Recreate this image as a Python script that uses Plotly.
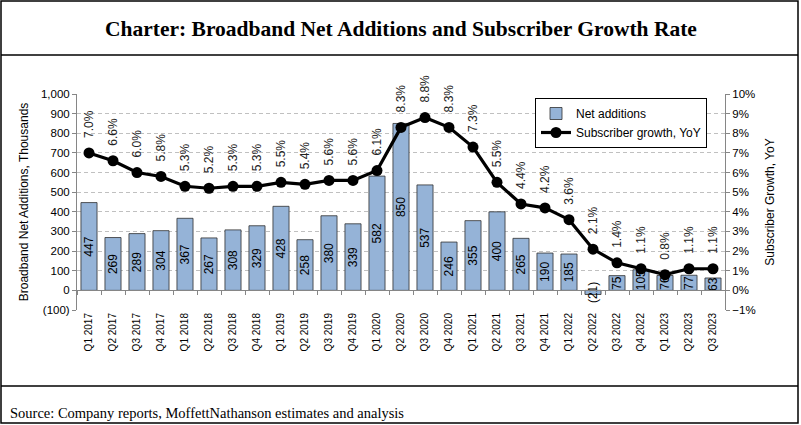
import plotly.graph_objects as go

quarters = ["Q1 2017", "Q2 2017", "Q3 2017", "Q4 2017", "Q1 2018", "Q2 2018", "Q3 2018", "Q4 2018",
            "Q1 2019", "Q2 2019", "Q3 2019", "Q4 2019", "Q1 2020", "Q2 2020", "Q3 2020", "Q4 2020",
            "Q1 2021", "Q2 2021", "Q3 2021", "Q4 2021", "Q1 2022", "Q2 2022", "Q3 2022", "Q4 2022",
            "Q1 2023", "Q2 2023", "Q3 2023"]
net_adds = [447, 269, 289, 304, 367, 267, 308, 329, 428, 258, 380, 339, 582, 850, 537, 246,
            355, 400, 265, 190, 185, -21, 75, 105, 76, 77, 63]
growth_pct = [7.0, 6.6, 6.0, 5.8, 5.3, 5.2, 5.3, 5.3, 5.5, 5.4, 5.6, 5.6, 6.1, 8.3, 8.8, 8.3,
              7.3, 5.5, 4.4, 4.2, 3.6, 2.1, 1.4, 1.1, 0.8, 1.1, 1.1]
left_ticks = [-100, 0, 100, 200, 300, 400, 500, 600, 700, 800, 900, 1000]
left_ticktext = ["(100)", "0", "100", "200", "300", "400", "500", "600", "700", "800", "900", "1,000"]

title_text = "Charter: Broadband Net Additions and Subscriber Growth Rate"
source_text = "Source: Company reports, MoffettNathanson estimates and analysis"

growth = [g / 100 for g in growth_pct]
bar_text = [f"({abs(v)})" if v < 0 else f"{v}" for v in net_adds]

W, H = 801, 425
L, R, T, B = 77, 725, 94, 310


def px_x(px):
    return (px - L) / (R - L)


def px_y(py):
    return (B - py) / (B - T)


GRID = "#C0C0C0"
AXIS = "#868686"
FONT = "Liberation Sans, Arial, sans-serif"
SERIF = "Liberation Serif, Georgia, serif"

n = len(quarters)
cat_range = [-0.5, n - 0.5]

fig = go.Figure()
fig.add_trace(go.Bar(
    x=quarters, y=net_adds, name="Net additions",
    marker=dict(color="#95B3D7", line=dict(color="#303030", width=0.8)),
    text=bar_text, textposition="inside", insidetextanchor="middle", textangle=-90,
    constraintext="none", textfont=dict(size=12, color="#000000", family=FONT),
    xaxis="x", yaxis="y", width=0.67,
))
fig.add_trace(go.Scatter(
    x=quarters, y=growth, name="Subscriber growth, YoY", mode="lines+markers",
    line=dict(color="#000000", width=3.2), marker=dict(color="#000000", size=11),
    xaxis="x2", yaxis="y2",
))

annotations = [
    dict(x=q, y=g, xref="x2", yref="y2", text=f"{p:.1f}%", textangle=-90, showarrow=False,
         xanchor="center", yanchor="bottom", yshift=13,
         font=dict(size=12, color="#222222", family=FONT))
    for q, g, p in zip(quarters, growth, growth_pct)
]
annotations.append(dict(
    x=px_x(8), y=px_y(413), xref="paper", yref="paper", text=source_text, showarrow=False,
    xanchor="left", yanchor="middle", font=dict(size=14.5, color="#000000", family=SERIF)))
annotations.append(dict(
    x=px_x(400.5), y=px_y(29), xref="paper", yref="paper", text=f"<b>{title_text}</b>",
    showarrow=False, xanchor="center", yanchor="middle",
    font=dict(size=21.5, color="#000000", family=SERIF)))

shapes = [
    dict(type="rect", xref="paper", yref="paper", x0=px_x(1), x1=px_x(798), y0=px_y(1), y1=px_y(423),
         line=dict(color="#000000", width=1.5), layer="above"),
    dict(type="line", xref="paper", yref="paper", x0=px_x(1), x1=px_x(798), y0=px_y(55), y1=px_y(55),
         line=dict(color="#000000", width=1.5)),
    dict(type="line", xref="paper", yref="paper", x0=px_x(1), x1=px_x(798), y0=px_y(386), y1=px_y(386),
         line=dict(color="#000000", width=1.5)),
]

zero_pos = (0 - left_ticks[0]) / (left_ticks[-1] - left_ticks[0])

fig.update_layout(
    width=W, height=H,
    margin=dict(l=L, r=W - R, t=T, b=H - B, autoexpand=False),
    paper_bgcolor="#FFFFFF", plot_bgcolor="#FFFFFF",
    font=dict(family=FONT, size=11, color="#000000"),
    showlegend=True,
    legend=dict(x=px_x(535), y=px_y(98), xanchor="left", yanchor="top",
                bgcolor="#FFFFFF", bordercolor="#000000", borderwidth=1,
                font=dict(size=12, family=FONT, color="#000000"),
                itemwidth=30, tracegroupgap=0),
    bargap=0.33,
    xaxis=dict(type="category", anchor="y", range=cat_range, showline=False, ticks="", tickangle=-90,
               showgrid=False, tickfont=dict(size=10, family=FONT, color="#000000")),
    xaxis2=dict(type="category", overlaying="x", anchor="free", position=zero_pos, range=cat_range,
                showline=True, linecolor=AXIS, linewidth=1, ticks="outside", tickson="boundaries",
                ticklen=4, tickcolor=AXIS, showticklabels=False, showgrid=False),
    yaxis=dict(range=[left_ticks[0], left_ticks[-1]], tickvals=left_ticks, ticktext=left_ticktext,
               showgrid=True, gridcolor=GRID, griddash="4px,3px", gridwidth=1, zeroline=False,
               showline=True, linecolor=AXIS, ticks="outside", ticklen=4, tickcolor=AXIS,
               tickfont=dict(size=11.5, family=FONT, color="#000000"),
               title=dict(text="Broadband Net Additions, Thousands", standoff=9,
                          font=dict(size=12, family=FONT, color="#000000"))),
    yaxis2=dict(range=[-0.01, 0.10], dtick=0.01, tickformat=".0%", overlaying="y", side="right",
                anchor="x2", showgrid=False, zeroline=False,
                showline=True, linecolor=AXIS, ticks="outside", ticklen=4, tickcolor=AXIS,
                tickfont=dict(size=11.5, family=FONT, color="#000000"),
                title=dict(text="Subscriber Growth, YoY", standoff=10,
                           font=dict(size=12, family=FONT, color="#000000"))),
    annotations=annotations,
    shapes=shapes,
)

fig.write_html("out.html", config={"displayModeBar": False},
               post_script="document.body.style.margin='0';")
